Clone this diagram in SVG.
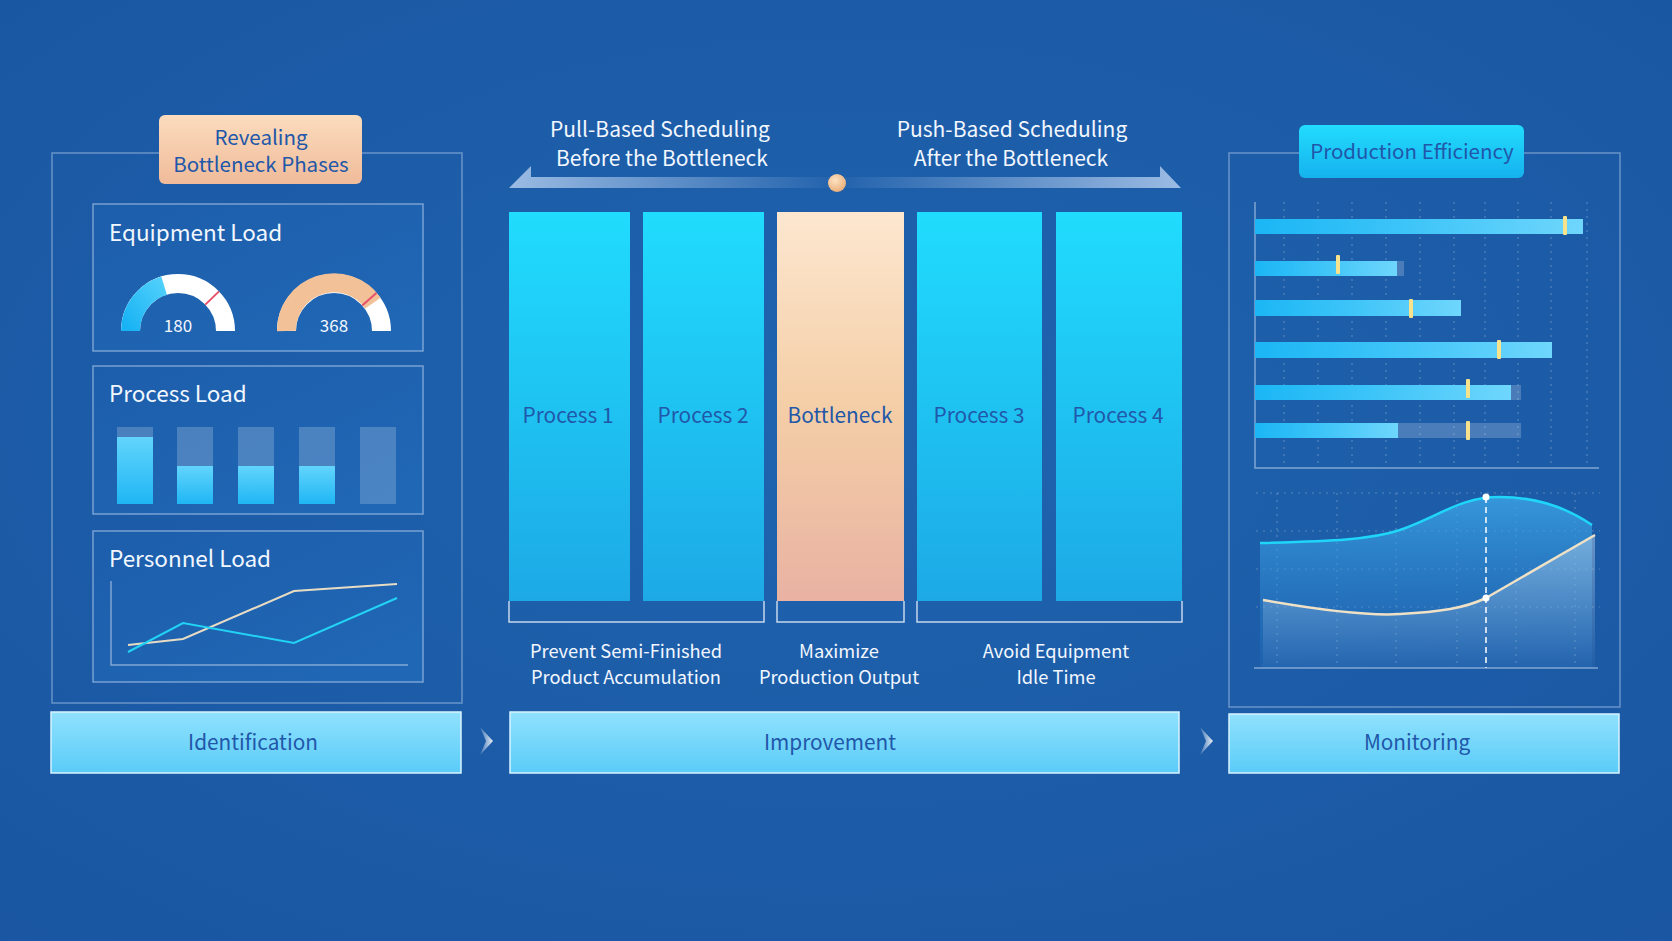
<svg xmlns="http://www.w3.org/2000/svg" width="1672" height="941" viewBox="0 0 1672 941">
<defs>
<radialGradient id="bg" cx="50%" cy="45%" r="75%">
<stop offset="0" stop-color="#1f63ae"/>
<stop offset="1" stop-color="#1a56a2"/>
</radialGradient>
<linearGradient id="proc" x1="0" y1="0" x2="0" y2="1">
<stop offset="0" stop-color="#20dcfd"/>
<stop offset="1" stop-color="#1da9e6"/>
</linearGradient>
<linearGradient id="bneck" x1="0" y1="0" x2="0" y2="1">
<stop offset="0" stop-color="#fde7d0"/>
<stop offset="0.5" stop-color="#f4cea6"/>
<stop offset="1" stop-color="#e9b2a3"/>
</linearGradient>
<linearGradient id="peach" x1="0" y1="0" x2="0" y2="1">
<stop offset="0" stop-color="#fbdcbd"/>
<stop offset="1" stop-color="#f0bb9a"/>
</linearGradient>
<linearGradient id="cyanlbl" x1="0" y1="0" x2="0" y2="1">
<stop offset="0" stop-color="#22dcfd"/>
<stop offset="1" stop-color="#15b2ee"/>
</linearGradient>
<linearGradient id="phase" x1="0" y1="0" x2="0" y2="1">
<stop offset="0" stop-color="#90e1fd"/>
<stop offset="1" stop-color="#5accf8"/>
</linearGradient>
<linearGradient id="inner" x1="0" y1="0" x2="1" y2="1">
<stop offset="0" stop-color="#1d5eab"/>
<stop offset="1" stop-color="#2068b6"/>
</linearGradient>
<linearGradient id="barfill" x1="0" y1="0" x2="0" y2="1">
<stop offset="0" stop-color="#62d4fc"/>
<stop offset="1" stop-color="#1fb6f4"/>
</linearGradient>
<linearGradient id="hbar" x1="0" y1="0" x2="1" y2="0">
<stop offset="0" stop-color="#1bb6f5"/>
<stop offset="0.45" stop-color="#3cc4f8"/>
<stop offset="1" stop-color="#6fd6fc"/>
</linearGradient>
<linearGradient id="arrL" x1="0" y1="0" x2="1" y2="0">
<stop offset="0" stop-color="#a9c6ea" stop-opacity="0.9"/>
<stop offset="1" stop-color="#a9c6ea" stop-opacity="0.05"/>
</linearGradient>
<linearGradient id="arrR" x1="1" y1="0" x2="0" y2="0">
<stop offset="0" stop-color="#a9c6ea" stop-opacity="0.9"/>
<stop offset="1" stop-color="#a9c6ea" stop-opacity="0.05"/>
</linearGradient>
<radialGradient id="dot" cx="40%" cy="35%" r="65%">
<stop offset="0" stop-color="#fde2c2"/>
<stop offset="1" stop-color="#e9b07c"/>
</radialGradient>
<linearGradient id="gblue" x1="0" y1="1" x2="1" y2="0">
<stop offset="0" stop-color="#19b3f4"/>
<stop offset="1" stop-color="#4fcffb"/>
</linearGradient>
<linearGradient id="areaC" x1="0" y1="0" x2="0" y2="1">
<stop offset="0" stop-color="#3ca6e6" stop-opacity="0.8"/>
<stop offset="1" stop-color="#2a7fcc" stop-opacity="0.15"/>
</linearGradient>
<linearGradient id="areaB" x1="0" y1="0" x2="0" y2="1">
<stop offset="0" stop-color="#c9dcef" stop-opacity="0.45"/>
<stop offset="1" stop-color="#c9dcef" stop-opacity="0.03"/>
</linearGradient>
<linearGradient id="chev" x1="0" y1="0" x2="1" y2="0">
<stop offset="0" stop-color="#ffffff" stop-opacity="0.15"/>
<stop offset="1" stop-color="#ffffff" stop-opacity="0.9"/>
</linearGradient>
<style>
text{font-family:"Noto Sans CJK SC","Noto Sans","Liberation Sans",sans-serif;}
.w{fill:#f2f7ff;}
.d{fill:#2157a9;}
.h{font-size:22.5px;}
.m{font-size:21px;}
.s{font-size:18.3px;}
.c{text-anchor:middle;}
.panel{fill:none;stroke:#a8c3e6;stroke-opacity:0.55;stroke-width:1.5;}
.box{fill:url(#inner);stroke:#b5cdec;stroke-opacity:0.6;stroke-width:1.5;}
.grid{stroke:#ffffff;stroke-opacity:0.25;stroke-width:1.2;stroke-dasharray:2 5;fill:none;}
.axis{stroke:#c2d5ee;stroke-opacity:0.6;stroke-width:1.5;fill:none;}
.track{fill:#ffffff;fill-opacity:0.2;}
.mark{fill:#f8e38c;}
.bracket{fill:none;stroke:#c5d6ee;stroke-width:1.5;}
.phase{fill:url(#phase);stroke:#d8f3ff;stroke-width:1.5;}
.p{font-size:20.8px;}
</style>
</defs>
<rect width="1672" height="941" fill="url(#bg)"/>

<g id="identification-panel">
<rect class="panel" x="52" y="153" width="410" height="550"/>
<g id="revealing-label">
<rect x="159" y="115" width="203" height="69" rx="6" fill="url(#peach)"/>
<text class="d c" x="261" y="145" style="font-size:20.5px">Revealing</text>
<text class="d c" x="261" y="172" style="font-size:20.5px">Bottleneck Phases</text>
</g>
<g id="equipment-load">
<rect class="box" x="93" y="204" width="330" height="147"/>
<text class="h w" x="109" y="241">Equipment Load</text>
<path d="M130.5,331 A47.5,47.5 0 0 1 225.5,331" fill="none" stroke="#ffffff" stroke-width="19"/>
<path d="M130.5,331 A47.5,47.5 0 0 1 164.1,285.6" fill="none" stroke="url(#gblue)" stroke-width="19"/>
<line x1="205.3" y1="304.6" x2="219" y2="291.4" stroke="#e9506a" stroke-width="2"/>
<text class="w c" x="178" y="332" style="font-size:17px">180</text>
<path d="M286.5,331 A47.5,47.5 0 0 1 381.5,331" fill="none" stroke="#ffffff" stroke-width="19"/>
<path d="M286.5,331 A47.5,47.5 0 0 1 372.9,303.1" fill="none" stroke="#f2c197" stroke-width="19"/>
<line x1="362.2" y1="305.6" x2="376.4" y2="292.9" stroke="#e9506a" stroke-width="2"/>
<text class="w c" x="334" y="332" style="font-size:17px">368</text>
</g>
<g id="process-load">
<rect class="box" x="93" y="366" width="330" height="148"/>
<text class="h w" x="109" y="402">Process Load</text>
<rect class="track" x="117" y="427" width="36" height="77"/>
<rect fill="url(#barfill)" x="117" y="437" width="36" height="67"/>
<rect class="track" x="177" y="427" width="36" height="77"/>
<rect fill="url(#barfill)" x="177" y="466" width="36" height="38"/>
<rect class="track" x="238" y="427" width="36" height="77"/>
<rect fill="url(#barfill)" x="238" y="466" width="36" height="38"/>
<rect class="track" x="299" y="427" width="36" height="77"/>
<rect fill="url(#barfill)" x="299" y="466" width="36" height="38"/>
<rect class="track" x="360" y="427" width="36" height="77"/>
</g>
<g id="personnel-load">
<rect class="box" x="93" y="531" width="330" height="151"/>
<text class="h w" x="109" y="567">Personnel Load</text>
<polyline class="axis" points="111,581 111,665 408,665"/>
<polyline points="128,645 183,639 294,591 397,584" fill="none" stroke="#e8dcc4" stroke-width="2"/>
<polyline points="128,652 183,623 294,643 397,598" fill="none" stroke="#22d3f5" stroke-width="2"/>
</g>
</g>

<g id="improvement-section">
<g id="scheduling">
<polygon points="509,188 531,166 531,177 830,177 830,188" fill="url(#arrL)"/>
<polygon points="1181,188 1160,166 1160,177 845,177 845,188" fill="url(#arrR)"/>
<circle cx="837" cy="183" r="9" fill="url(#dot)"/>
<text class="m w c" x="660" y="137">Pull-Based Scheduling</text>
<text class="m w c" x="662" y="166">Before the Bottleneck</text>
<text class="m w c" x="1012" y="137">Push-Based Scheduling</text>
<text class="m w c" x="1011" y="166">After the Bottleneck</text>
</g>
<g id="process-1">
<rect x="509" y="212" width="121" height="389" fill="url(#proc)"/>
<text class="p d c" x="568" y="423">Process 1</text>
</g>
<g id="process-2">
<rect x="643" y="212" width="121" height="389" fill="url(#proc)"/>
<text class="p d c" x="703" y="423">Process 2</text>
</g>
<g id="bottleneck">
<rect x="777" y="212" width="127" height="389" fill="url(#bneck)"/>
<text class="p d c" x="840" y="423">Bottleneck</text>
</g>
<g id="process-3">
<rect x="917" y="212" width="125" height="389" fill="url(#proc)"/>
<text class="p d c" x="979" y="423">Process 3</text>
</g>
<g id="process-4">
<rect x="1056" y="212" width="126" height="389" fill="url(#proc)"/>
<text class="p d c" x="1118" y="423">Process 4</text>
</g>
<g id="goals">
<polyline class="bracket" points="509,601 509,622 764,622 764,601"/>
<polyline class="bracket" points="777,601 777,622 904,622 904,601"/>
<polyline class="bracket" points="917,601 917,622 1182,622 1182,601"/>
<text class="s w c" x="626" y="658">Prevent Semi-Finished</text>
<text class="s w c" x="626" y="684">Product Accumulation</text>
<text class="s w c" x="839" y="658">Maximize</text>
<text class="s w c" x="839" y="684">Production Output</text>
<text class="s w c" x="1056" y="658">Avoid Equipment</text>
<text class="s w c" x="1056" y="684">Idle Time</text>
</g>
</g>

<g id="monitoring-panel">
<rect class="panel" x="1229" y="153" width="391" height="554"/>
<g id="production-efficiency-label">
<rect x="1299" y="125" width="225" height="53" rx="6" fill="url(#cyanlbl)"/>
<text class="d c" x="1412" y="159" style="font-size:20.5px">Production Efficiency</text>
</g>
<g id="efficiency-bars">
<path class="grid" d="M1284,202V468M1318,202V468M1352,202V468M1386,202V468M1420,202V468M1454,202V468M1485,202V468M1518,202V468M1551,202V468M1587,202V468"/>
<polyline class="axis" points="1255,202 1255,468 1599,468"/>
<rect fill="url(#hbar)" x="1255" y="219" width="328" height="15"/>
<rect class="mark" x="1563" y="216" width="4" height="19" rx="1"/>
<rect class="track" x="1397" y="261" width="7" height="15"/>
<rect fill="url(#hbar)" x="1255" y="261" width="142" height="15"/>
<rect class="mark" x="1336" y="255" width="4" height="19" rx="1"/>
<rect fill="url(#hbar)" x="1255" y="300" width="206" height="16"/>
<rect class="mark" x="1409" y="299" width="4" height="19" rx="1"/>
<rect fill="url(#hbar)" x="1255" y="342" width="297" height="16"/>
<rect class="mark" x="1497" y="340" width="4" height="19" rx="1"/>
<rect class="track" x="1511" y="385" width="10" height="15"/>
<rect fill="url(#hbar)" x="1255" y="385" width="256" height="15"/>
<rect class="mark" x="1466" y="379" width="4" height="19" rx="1"/>
<rect class="track" x="1398" y="423" width="123" height="15"/>
<rect fill="url(#hbar)" x="1255" y="423" width="143" height="15"/>
<rect class="mark" x="1466" y="421" width="4" height="19" rx="1"/>
</g>
<g id="trend-chart">
<path class="grid" d="M1256,493H1600M1256,531H1600M1256,569H1600M1256,607H1600M1277,493V668M1337,493V668M1396,493V668M1457,493V668M1516,493V668M1575,493V668"/>
<path d="M1260,543 C1330,541 1370,540 1400,530 C1440,516 1460,497 1500,497 C1540,497 1570,510 1592,525 L1592,668 L1260,668 Z" fill="url(#areaC)"/>
<path d="M1263,600 C1320,610 1370,616 1400,614 C1440,612 1465,608 1486,598 L1595,535 L1595,668 L1263,668 Z" fill="url(#areaB)"/>
<path d="M1260,543 C1330,541 1370,540 1400,530 C1440,516 1460,497 1500,497 C1540,497 1570,510 1592,525" fill="none" stroke="#1fd6f8" stroke-width="2.5"/>
<path d="M1263,600 C1320,610 1370,616 1400,614 C1440,612 1465,608 1486,598 L1595,535" fill="none" stroke="#efe1c6" stroke-width="2.5"/>
<line x1="1486" y1="497" x2="1486" y2="668" stroke="#ffffff" stroke-width="1.5" stroke-dasharray="6 4"/>
<circle cx="1486" cy="497" r="3.5" fill="#ffffff"/>
<circle cx="1486" cy="598" r="3.5" fill="#ffffff"/>
<line class="axis" x1="1254" y1="668" x2="1598" y2="668"/>
</g>
</g>

<g id="phase-identification">
<rect class="phase" x="51" y="712" width="410" height="61"/>
<text class="d c" x="253" y="750" style="font-size:20.8px">Identification</text>
</g>
<g id="phase-improvement">
<rect class="phase" x="510" y="712" width="669" height="61"/>
<text class="d c" x="830" y="750" style="font-size:20.8px">Improvement</text>
</g>
<g id="phase-monitoring">
<rect class="phase" x="1229" y="714" width="390" height="59"/>
<text class="d c" x="1417" y="750" style="font-size:20.8px">Monitoring</text>
</g>

<g id="connectors">
<polygon points="480,727 493,741 480,755 486,741" fill="url(#chev)"/>
<polygon points="1200,727 1213,741 1200,755 1206,741" fill="url(#chev)"/>
</g>
</svg>
